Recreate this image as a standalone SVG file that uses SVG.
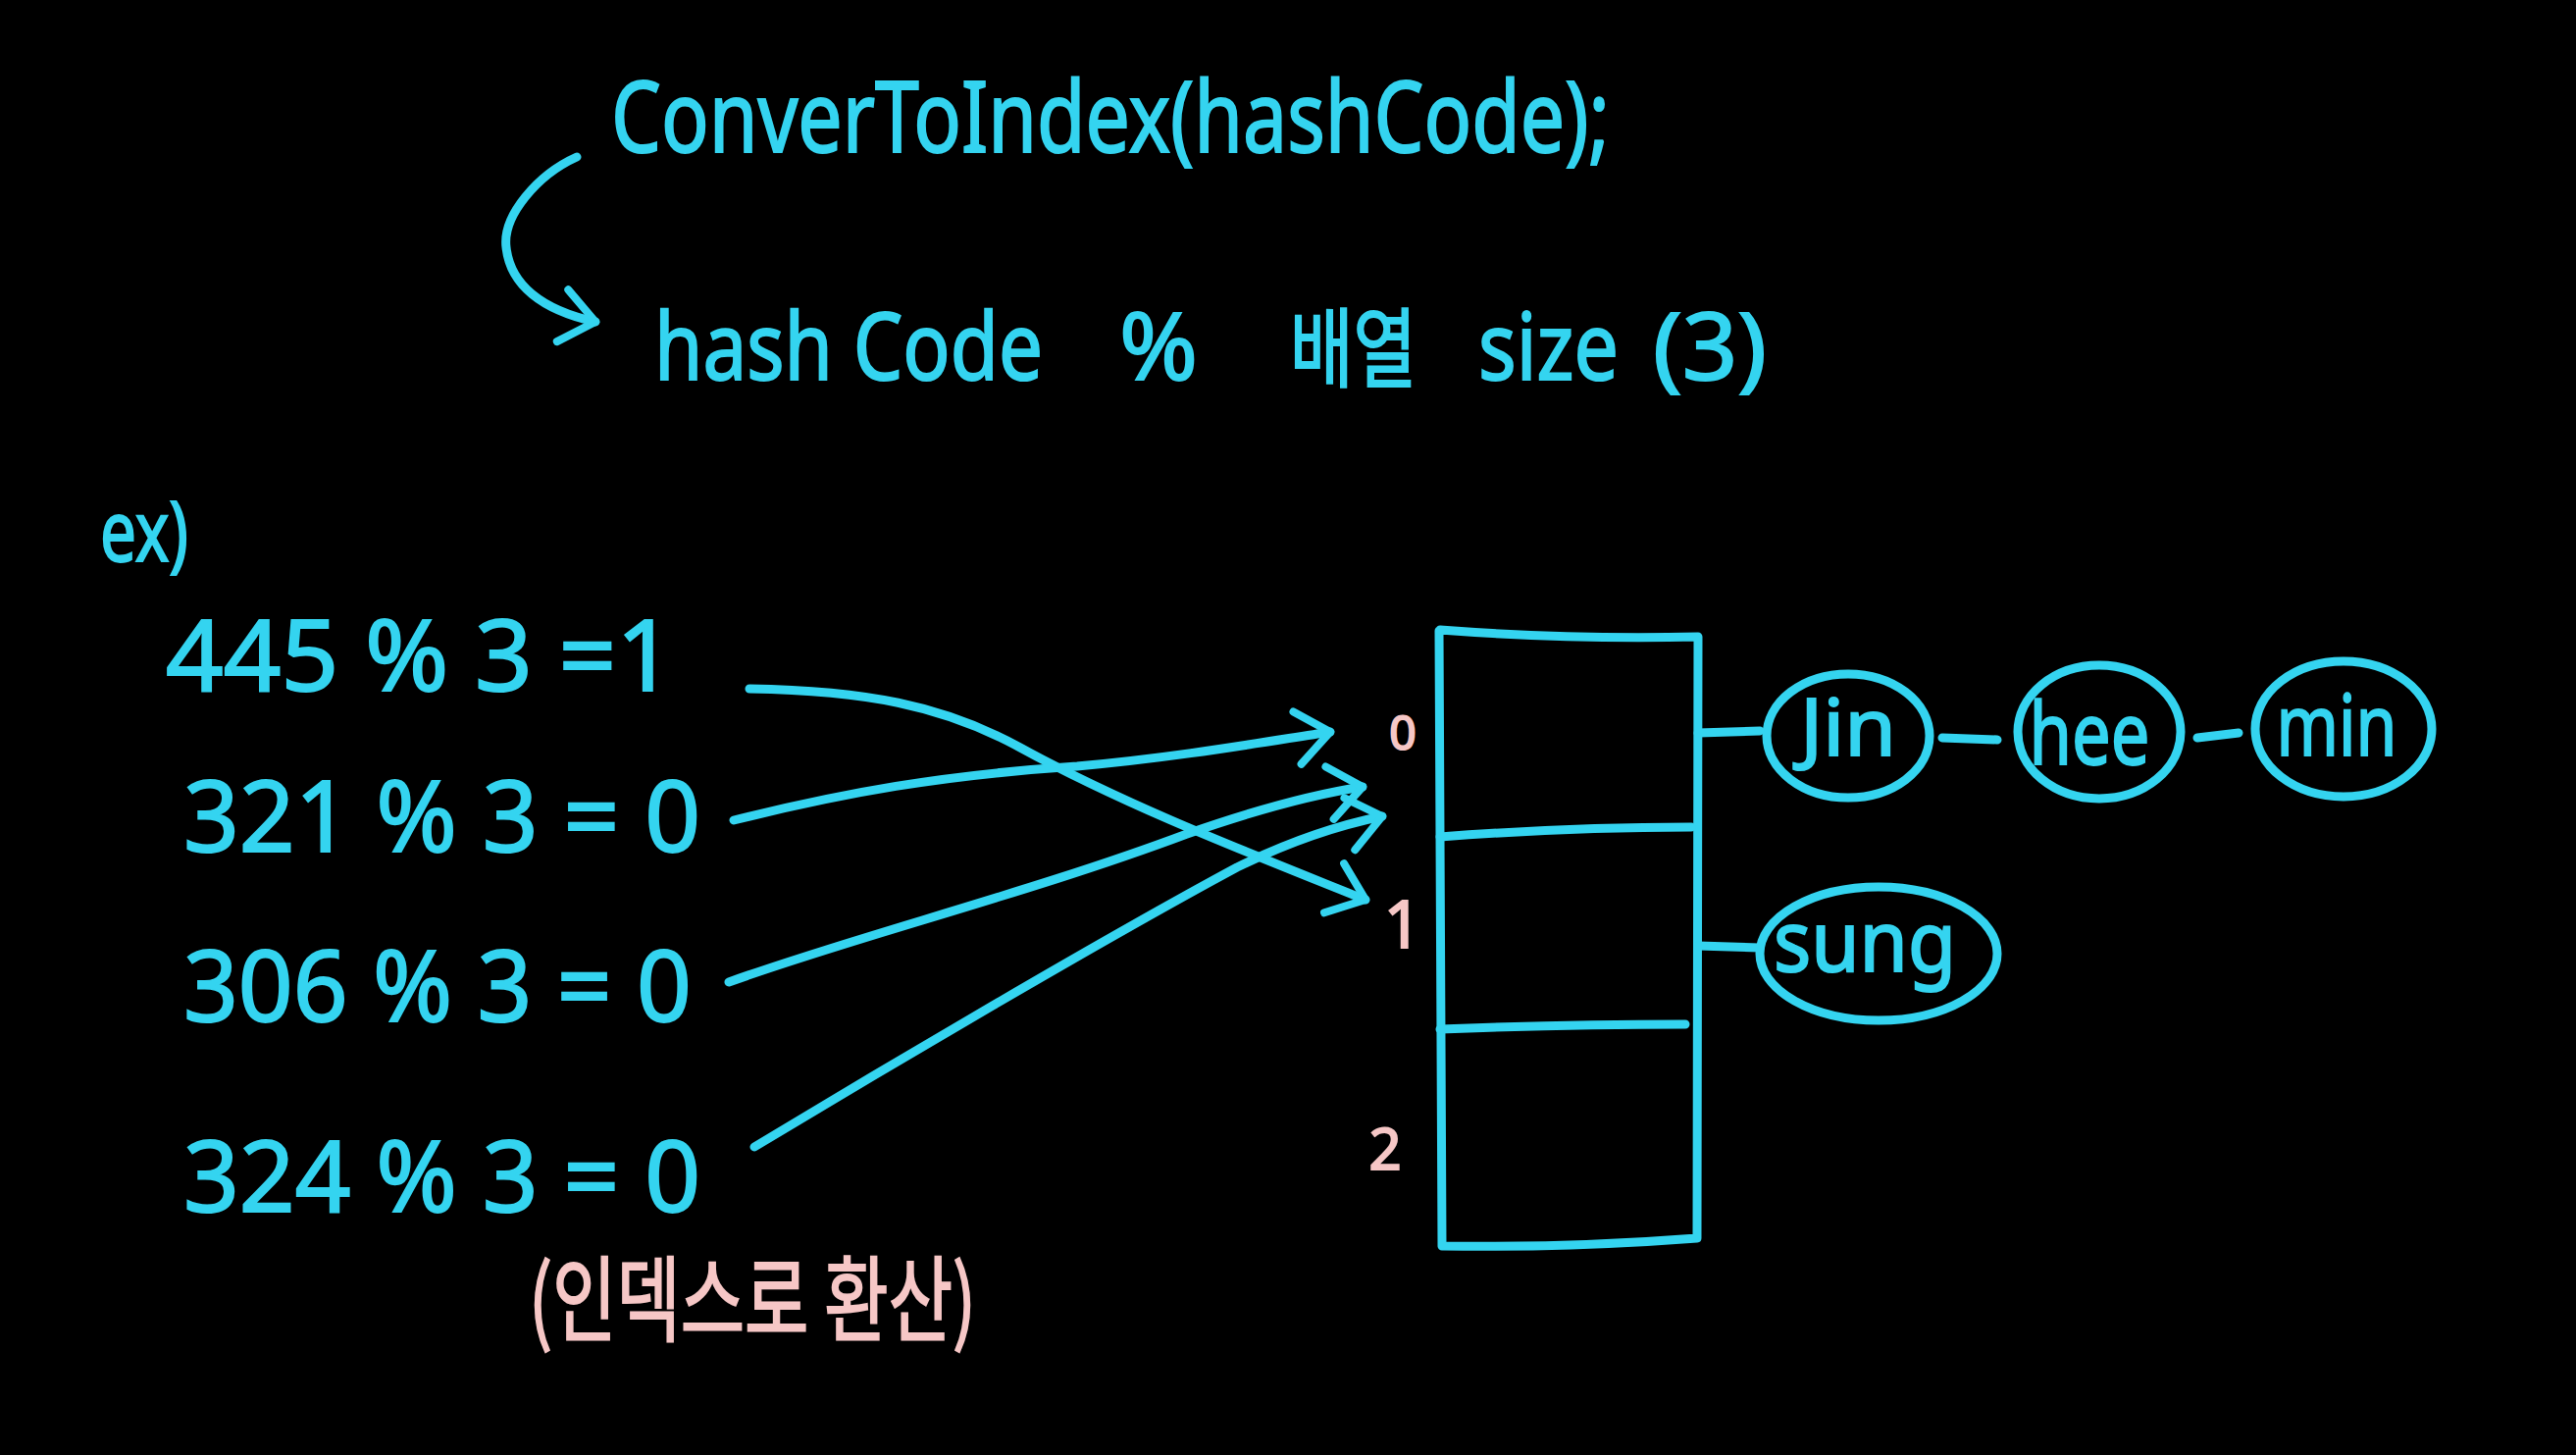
<svg xmlns="http://www.w3.org/2000/svg" width="2626" height="1483" viewBox="0 0 2626 1483">
<style>
.c{fill:#34D4F0;stroke:#34D4F0;stroke-width:2;font-family:"Noto Sans","Liberation Sans","Noto Sans CJK KR",sans-serif}
.p{fill:#F6C7C6;stroke:#F6C7C6;stroke-width:2;font-family:"Noto Sans","Liberation Sans","Noto Sans CJK KR",sans-serif}
.ln{fill:none;stroke:#34D4F0;stroke-width:9;stroke-linecap:round;stroke-linejoin:round}
.ar{marker-end:url(#head)}
</style>
<defs>
<marker id="head" markerUnits="userSpaceOnUse" markerWidth="60" markerHeight="60" refX="50" refY="30" orient="auto" overflow="visible">
<path d="M16 4 L50 30 L16 58" fill="none" stroke="#34D4F0" stroke-width="8" stroke-linecap="round" stroke-linejoin="round"/>
</marker>
</defs>
<rect width="2626" height="1483" fill="#000"/>

<g id="formula">
<text class="c" x="623" y="155" font-size="100" textLength="1018" lengthAdjust="spacingAndGlyphs">ConverToIndex(hashCode);</text>
<text class="c" y="387" font-size="95"><tspan x="667" textLength="396" lengthAdjust="spacingAndGlyphs">hash Code</tspan><tspan x="1141" textLength="80" lengthAdjust="spacingAndGlyphs">%</tspan><tspan x="1315" textLength="129" lengthAdjust="spacingAndGlyphs" font-family="Noto Sans CJK KR,sans-serif" font-size="88">배열</tspan><tspan x="1507" textLength="143" lengthAdjust="spacingAndGlyphs">size</tspan><tspan x="1685" textLength="116" lengthAdjust="spacingAndGlyphs">(3)</tspan></text>
</g>

<g id="examples">
<text class="c" x="102" y="572" font-size="85" textLength="90" lengthAdjust="spacingAndGlyphs">ex)</text>
<text class="c" x="169" y="704" font-size="100" textLength="518" lengthAdjust="spacingAndGlyphs">445 % 3 =1</text>
<text class="c" x="187" y="868" font-size="100" textLength="527" lengthAdjust="spacingAndGlyphs">321 % 3 = 0</text>
<text class="c" x="187" y="1041" font-size="100" textLength="518" lengthAdjust="spacingAndGlyphs">306 % 3 = 0</text>
<text class="c" x="187" y="1235" font-size="100" textLength="527" lengthAdjust="spacingAndGlyphs">324 % 3 = 0</text>
<text class="p" x="539" y="1360" font-size="95" textLength="456" lengthAdjust="spacingAndGlyphs" style="font-family:'Noto Sans CJK KR',sans-serif">(인덱스로 환산)</text>
</g>

<g id="array">
<path class="ln" d="M1468 642 Q1600 652 1731 649 L1730 1262 Q1600 1272 1470 1270 L1467 643"/>
<path class="ln" d="M1468 853 Q1600 843 1724 843"/>
<path class="ln" d="M1468 1049 Q1600 1044 1718 1044"/>
<text class="p" x="1430" y="764" font-size="48" text-anchor="middle">0</text>
<text class="p" x="1430" y="966" font-size="68" text-anchor="middle">1</text>
<text class="p" x="1412" y="1192" font-size="58" text-anchor="middle">2</text>
</g>

<g id="node-jin">
<ellipse class="ln" cx="1884" cy="750" rx="83" ry="63"/>
<text class="c" x="1884" y="770" font-size="80" text-anchor="middle" textLength="98" lengthAdjust="spacingAndGlyphs">Jin</text>
</g>
<g id="node-hee">
<ellipse class="ln" cx="2140" cy="746" rx="83" ry="68"/>
<text class="c" x="2130" y="779" font-size="88" text-anchor="middle" textLength="123" lengthAdjust="spacingAndGlyphs">hee</text>
</g>
<g id="node-min">
<ellipse class="ln" cx="2389" cy="743" rx="90" ry="69"/>
<text class="c" x="2382" y="770" font-size="85" text-anchor="middle" textLength="123" lengthAdjust="spacingAndGlyphs">min</text>
</g>
<g id="node-sung">
<ellipse class="ln" cx="1915" cy="972" rx="121" ry="68"/>
<text class="c" x="1901" y="990" font-size="85" text-anchor="middle" textLength="186" lengthAdjust="spacingAndGlyphs">sung</text>
</g>

<g id="connectors">
<path class="ln ar" d="M588 160 C548 178 512 220 516 252 C520 290 552 316 607 328"/>
<path class="ln ar" d="M764 702 C880 704 960 718 1040 762 C1150 822 1270 868 1392 917"/>
<path class="ln ar" d="M748 836 C860 808 960 790 1098 781 C1200 772 1290 756 1356 746"/>
<path class="ln ar" d="M743 1001 C870 955 1050 910 1210 850 C1290 822 1350 808 1389 802"/>
<path class="ln ar" d="M769 1169 C900 1090 1120 960 1261 884 C1320 855 1370 840 1409 832"/>
<path class="ln" d="M1731 747 L1794 745"/>
<path class="ln" d="M1980 752 L2036 754"/>
<path class="ln" d="M2240 752 L2282 747"/>
<path class="ln" d="M1731 964 L1794 966"/>
</g>
</svg>
